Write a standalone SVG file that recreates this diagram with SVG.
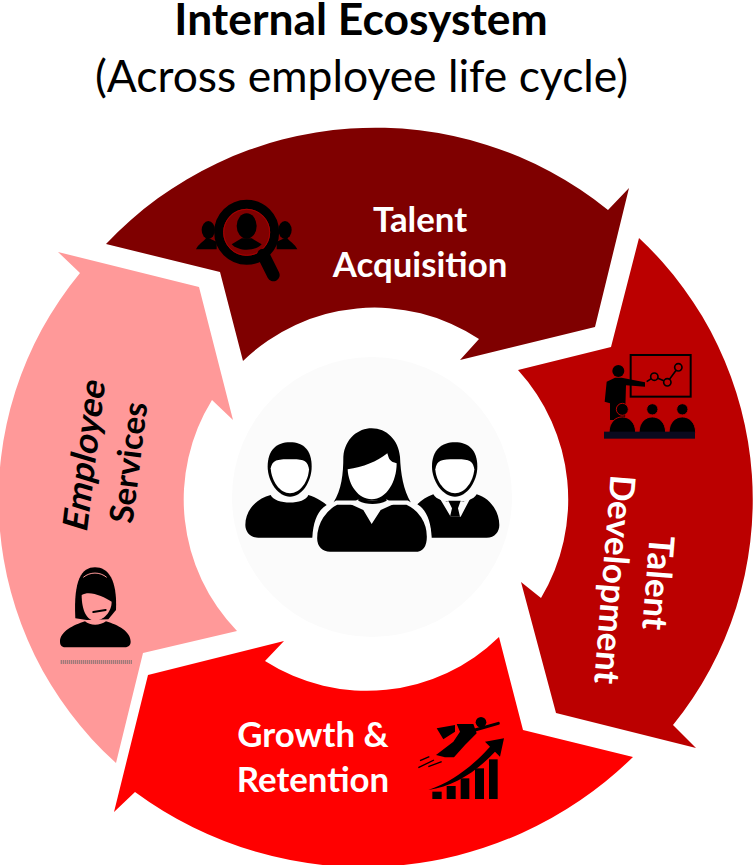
<svg xmlns="http://www.w3.org/2000/svg" width="753" height="865" viewBox="0 0 753 865">
<style>
text{font-family:"Lato","Liberation Sans",sans-serif}
.t{font-weight:700;font-size:34.8px;text-anchor:middle}
.w{fill:#fff}.k{fill:#000}
.title{font-size:44.4px;text-anchor:middle;fill:#000}
</style>
<rect width="753" height="865" fill="#fff"/>
<g id="title">
<text class="title" x="361" y="35" font-weight="700">Internal Ecosystem</text>
<text class="title" x="361.500" y="92">(Across employee life cycle)</text>
</g>
<g id="connectors">
<path id="arrow-acquisition" fill="#7f0000" d="M106,244 L220,272 L243,361 A189,189 0 0 1 479,339 L460,360 L595,327 L629,188 L608,210 A370,370 0 0 0 106,244Z"/>
<path id="arrow-development" fill="#bb0000" d="M639,238 L611,347 L518,370 A192,192 0 0 1 541,598 L521,582 L556,713 L696,748 L673,725 A358,358 0 0 0 639,238Z"/>
<path id="arrow-growth" fill="#ff0000" d="M633,757 L523,730 L499,637 A189,189 0 0 1 265,661 L284,641 L148,675 L114,812 L135,792 A385,385 0 0 0 633,757Z"/>
<path id="arrow-services" fill="#ff9999" d="M116,763 L143,653 L237,631 A189,189 0 0 1 212,400 L233,420 L199,287 L58,252 L80,273 A355,355 0 0 0 116,763Z"/>
</g>
<g id="center">
<circle cx="372" cy="497" r="140" fill="#fbfbfb"/>
<g transform="translate(230 410) scale(.33333)">
<path class="k" d="M122,255 C135,285 225,285 235,255 C260,262 285,280 290,285 C265,300 250,330 247,383 L85,383 C60,383 46,365 46,345 C46,300 80,265 122,255Z"/>
<path class="k" d="M113,170 C113,120 140,97 180,97 C220,97 245,120 245,170 C245,215 215,260 180,260 C145,260 113,215 113,170Z"/>
<path fill="#fff" d="M122,175 C128,150 140,148 180,148 C220,148 232,150 237,178 C235,215 210,250 180,250 C150,250 125,215 122,175Z"/>
<path class="k" d="M562,283 C575,270 590,260 610,253 C625,285 725,285 740,253 C775,262 808,300 808,345 C808,365 795,383 770,383 L605,383 C603,335 590,300 562,283Z"/>
<path fill="#fbfbfb" d="M628,263 L662,320 L692,320 L722,263 L700,275 L650,275Z"/>
<path class="k" d="M655,272 L692,272 L684,295 L690,320 L660,320 L666,295Z"/>
<path class="k" d="M606,170 C606,120 635,97 675,97 C715,97 742,120 742,170 C742,215 710,260 675,260 C640,260 606,215 606,170Z"/>
<path fill="#fff" d="M616,178 C620,150 635,148 675,148 C715,148 728,150 733,178 C730,215 705,250 675,250 C645,250 618,215 616,178Z"/>
<path class="k" d="M310,278 C335,240 340,190 340,140 C345,85 385,55 425,55 C470,55 505,90 510,140 C512,190 520,240 543,278Z"/>
<path fill="#fff" d="M353,178 C400,172 440,155 472,130 C478,150 480,155 500,160 C500,215 470,268 425,268 C385,268 355,225 353,178Z"/>
<path class="k" stroke="#fbfbfb" stroke-width="13" d="M320,278 C285,295 255,335 255,385 C255,415 275,432 300,432 L555,432 C580,432 597,415 597,380 C597,335 570,295 532,278Z"/>
<path fill="#fbfbfb" d="M362,283 L385,268 C410,280 445,280 470,268 L490,283 L452,300 L425,342 L400,300Z"/>
<path class="k" d="M385,262 C405,275 450,275 468,262 L470,272 C445,285 410,285 385,272Z"/>
</g>
</g>
<g id="icon-acquisition" transform="translate(180 180) scale(.33333)">
<ellipse class="k" cx="85" cy="150" rx="20" ry="27"/>
<path class="k" d="M48,208 C55,192 70,187 80,172 L110,185 V208Z"/>
<ellipse class="k" cx="315" cy="150" rx="20" ry="27"/>
<path class="k" d="M352,208 C345,192 330,187 320,172 L290,185 V208Z"/>
<circle cx="200" cy="157" r="84" fill="#7f0000" stroke="#000" stroke-width="27"/>
<circle cx="200" cy="157" r="69" fill="none" stroke="#a80000" stroke-width="3"/>
<ellipse class="k" cx="200" cy="138" rx="30" ry="38"/>
<path class="k" d="M155,193 L185,175 H215 L245,193 C225,215 175,215 155,193Z"/>
<path d="M250,225 L280,285" stroke="#000" stroke-width="38" stroke-linecap="round"/>
</g>
<g id="icon-development" transform="translate(590 340) scale(.33333)">
<rect x="122" y="45" width="180" height="125" fill="none" stroke="#000" stroke-width="6"/>
<path d="M170,125 L193,110 L232,127 L265,82" fill="none" stroke="#000" stroke-width="5"/>
<g fill="#bb0000" stroke="#000" stroke-width="5"><circle cx="193" cy="110" r="11"/><circle cx="232" cy="127" r="11"/><circle cx="265" cy="82" r="11"/></g>
<circle class="k" cx="85" cy="93" r="18"/>
<path class="k" d="M50,125 L75,113 L95,113 L165,127 L165,140 L108,136 L105,240 L60,240 L60,190 L44,185Z"/>
<g stroke="#bb0000" stroke-width="3" class="k">
<circle cx="97" cy="208" r="18"/><circle cx="187" cy="208" r="17"/><circle cx="277" cy="208" r="17"/>
<path d="M57,278 C57,215 137,215 137,278Z"/><path d="M147,278 C147,215 227,215 227,278Z"/><path d="M237,278 C237,215 317,215 317,278Z"/>
</g>
<rect x="42" y="275" width="273" height="21" fill="#0a0a1e"/>
</g>
<g id="icon-growth" transform="translate(410 700) scale(.33333)">
<rect class="k" x="67" y="275" width="28" height="22"/><rect class="k" x="110" y="258" width="27" height="39"/><rect class="k" x="152" y="235" width="26" height="62"/><rect class="k" x="195" y="205" width="27" height="92"/><rect class="k" x="237" y="178" width="26" height="119"/>
<path class="k" d="M55,270 C130,245 190,195 240,140 L225,125 L282,115 L270,170 L255,155 C200,215 130,260 55,270Z"/>
<circle class="k" cx="213" cy="67" r="16"/>
<path d="M195,90 L265,70" stroke="#000" stroke-width="9" stroke-linecap="round"/>
<path class="k" d="M140,72 L190,72 L200,100 L165,135 L132,172 L105,172 L78,165 L130,125 L150,95Z"/>
<path class="k" d="M80,85 L135,75 L135,95 L100,118Z"/>
<path d="M30,182 L58,170 M25,203 L72,180 M55,200 L95,185" stroke="#000" stroke-width="4" fill="none"/>
</g>
<g id="icon-services" transform="translate(40 560) scale(.33333)">
<path class="k" d="M106,175 C100,60 125,22 165,22 C205,22 232,60 228,150 L205,178 L140,180Z"/>
<path class="k" d="M135,184 C150,198 180,198 198,184 C235,195 272,215 272,245 C272,258 262,262 250,262 L80,262 C68,262 60,258 60,245 C60,215 100,195 135,184Z"/>
<path d="M130,52 C150,35 180,35 200,52" fill="none" stroke="#ff9999" stroke-width="3"/>
<path fill="#ff9999" d="M125,105 C150,90 190,110 215,125 C215,155 190,182 165,182 C140,182 125,150 125,105Z"/>
<path d="M160,156 L197,150" stroke="#000" stroke-width="6" stroke-linecap="round"/>
<path d="M62,306 H278" stroke="#a07a7a" stroke-width="12" stroke-dasharray="4 2"/>
</g>
<g id="label-acquisition">
<text class="t w" x="420" y="232">Talent</text>
<text class="t w" x="420" y="277">Acquisition</text>
</g>
<g id="label-growth">
<text class="t w" x="313" y="747">Growth &amp;</text>
<text class="t w" x="313" y="792">Retention</text>
</g>
<g id="label-services">
<text class="t k" transform="translate(96 458) rotate(-83) skewX(-10)">Employee</text>
<text class="t k" style="font-size:33px" transform="translate(140 464) rotate(-83)">Services</text>
</g>
<g id="label-development">
<text class="t w" transform="translate(646 582) rotate(94.500)">Talent</text>
<text class="t w" transform="translate(602.500 578.500) rotate(94.500)">Development</text>
</g>
</svg>
